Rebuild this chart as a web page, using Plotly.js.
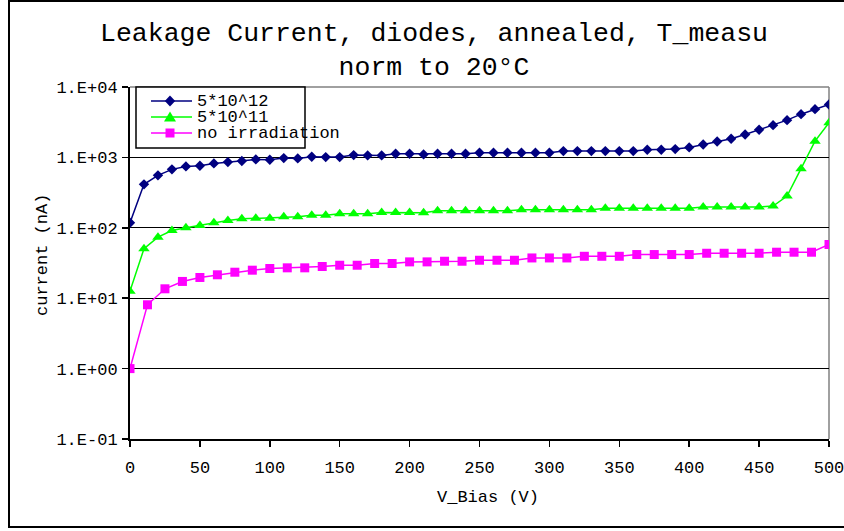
<!DOCTYPE html>
<html>
<head>
<meta charset="utf-8">
<script src="https://cdn.plot.ly/plotly-3.0.1.min.js"></script>
<style>
  html, body { margin: 0; padding: 0; background: #ffffff; }
  #chart { width: 844px; height: 531px; }
</style>
</head>
<body>
<div id="chart"></div>
<script>
// Bias voltage steps (V) for the two irradiated diodes
const biasVolts = [0, 10, 20, 30, 40, 50, 60, 70, 80, 90, 100, 110, 120, 130, 140, 150, 160, 170, 180, 190,
  200, 210, 220, 230, 240, 250, 260, 270, 280, 290, 300, 310, 320, 330, 340, 350, 360, 370, 380, 390,
  400, 410, 420, 430, 440, 450, 460, 470, 480, 490, 500];

// Bias voltage steps (V) for the unirradiated diode
const biasVoltsRef = [0, 12.5, 25, 37.5, 50, 62.5, 75, 87.5, 100, 112.5, 125, 137.5, 150, 162.5, 175, 187.5,
  200, 212.5, 225, 237.5, 250, 262.5, 275, 287.5, 300, 312.5, 325, 337.5, 350, 362.5, 375, 387.5,
  400, 412.5, 425, 437.5, 450, 462.5, 475, 487.5, 500];

// Leakage current (nA), fluence 5*10^12
const current5e12 = [118, 414, 556, 676, 745, 760, 822, 858, 887, 937, 925, 977, 968, 1020, 1010, 1010, 1078, 1067, 1067, 1125,
  1125, 1103, 1128, 1128, 1128, 1166, 1166, 1166, 1166, 1166, 1166, 1228, 1228, 1228, 1228, 1228, 1228, 1285, 1285, 1312,
  1387, 1528, 1685, 1841, 2119, 2471, 2873, 3381, 4112, 4843, 5646];

// Leakage current (nA), fluence 5*10^11
const current5e11 = [12.6, 50.4, 73.6, 91.6, 100, 108, 118, 127, 134, 137, 137, 143, 143, 151, 151, 158, 158, 158, 165, 165,
  165, 164, 175, 175, 175, 175, 175, 175, 181, 181, 181, 181, 181, 181, 189, 189, 189, 189, 189, 189,
  189, 197, 197, 197, 197, 197, 204, 282, 692, 1702, 3105];

// Leakage current (nA), no irradiation
const currentNoIrr = [1.0, 8.06, 13.6, 17.3, 19.7, 21.5, 23.4, 25.0, 26.4, 27.0, 27.0, 28.2, 29.4, 29.4, 31.1, 31.1,
  32.8, 32.8, 33.5, 33.5, 34.6, 34.6, 34.6, 37.3, 37.3, 37.3, 39.4, 39.4, 39.4, 41.7, 41.7, 41.7,
  41.7, 43.5, 43.5, 43.5, 43.5, 45, 45, 45, 57.9];

const seriesNames = ['5*10^12', '5*10^11', 'no irradiation'];
const seriesColors = ['#000080', '#00ff00', '#ff00ff'];
const yTickVals = [0.1, 1, 10, 100, 1000, 10000];
const yTickText = ['1.E-01', '1.E+00', '1.E+01', '1.E+02', '1.E+03', '1.E+04'];
const xTickVals = [0, 50, 100, 150, 200, 250, 300, 350, 400, 450, 500];

const FONT = '"Liberation Mono", "Courier New", monospace';
const W = 844, H = 531;
const M = { l: 130, r: 15, t: 87, b: 92 };
const plotW = W - M.l - M.r, plotH = H - M.t - M.b;
// pixel -> paper coordinates
const px = v => (v - M.l) / plotW;
const py = v => (H - M.b - v) / plotH;
const pathFrom = pts => 'M ' + pts.map(p => px(p[0]).toFixed(5) + ',' + py(p[1]).toFixed(5)).join(' L ') + ' Z';

const traces = [
  { x: biasVolts, y: current5e12, name: seriesNames[0], mode: 'lines+markers',
    line: { color: seriesColors[0], width: 1.5 }, marker: { symbol: 'diamond', size: 8, color: seriesColors[0] } },
  { x: biasVolts, y: current5e11, name: seriesNames[1], mode: 'lines+markers',
    line: { color: seriesColors[1], width: 1.5 }, marker: { symbol: 'triangle-up', size: 10, color: seriesColors[1] } },
  { x: biasVoltsRef, y: currentNoIrr, name: seriesNames[2], mode: 'lines+markers',
    line: { color: seriesColors[2], width: 1.5 }, marker: { symbol: 'square', size: 9, color: seriesColors[2] } }
];

// Legend box, sample lines and symbols
const legRows = [101, 117, 133];
const shapes = [
  // outer chart frame
  { type: 'rect', xref: 'paper', yref: 'paper', x0: px(9), x1: px(860), y0: py(527), y1: py(1),
    line: { color: '#000000', width: 2 }, layer: 'below' },
  // plot area top and right edges
  { type: 'line', xref: 'paper', yref: 'paper', x0: 0, x1: 1, y0: 1, y1: 1, line: { color: '#808080', width: 1.5 }, layer: 'between' },
  { type: 'line', xref: 'paper', yref: 'paper', x0: 1, x1: 1, y0: 0, y1: 1, line: { color: '#808080', width: 1.5 }, layer: 'between' },
  // legend box
  { type: 'rect', xref: 'paper', yref: 'paper', x0: px(136), x1: px(305), y0: py(148), y1: py(87),
    fillcolor: '#ffffff', line: { color: '#000000', width: 1.5 }, layer: 'above' }
];
legRows.forEach((ry, i) => {
  shapes.push({ type: 'line', xref: 'paper', yref: 'paper', x0: px(151), x1: px(192), y0: py(ry), y1: py(ry),
    line: { color: seriesColors[i], width: 1.5 }, layer: 'above' });
});
const cx = 170;
shapes.push({ type: 'path', xref: 'paper', yref: 'paper', layer: 'above', fillcolor: seriesColors[0], line: { width: 0 },
  path: pathFrom([[cx, legRows[0] - 5.5], [cx + 5.2, legRows[0]], [cx, legRows[0] + 5.5], [cx - 5.2, legRows[0]]]) });
shapes.push({ type: 'path', xref: 'paper', yref: 'paper', layer: 'above', fillcolor: seriesColors[1], line: { width: 0 },
  path: pathFrom([[cx - 6, legRows[1] + 4.5], [cx + 6, legRows[1] + 4.5], [cx, legRows[1] - 5.5]]) });
shapes.push({ type: 'path', xref: 'paper', yref: 'paper', layer: 'above', fillcolor: seriesColors[2], line: { width: 0 },
  path: pathFrom([[cx - 4.5, legRows[2] - 4.5], [cx + 4.5, legRows[2] - 4.5], [cx + 4.5, legRows[2] + 4.5], [cx - 4.5, legRows[2] + 4.5]]) });

const annotations = legRows.map((ry, i) => ({
  text: seriesNames[i], xref: 'paper', yref: 'paper', x: px(195), y: py(ry), xanchor: 'left', yanchor: 'middle',
  showarrow: false, font: { family: FONT, size: 17, color: '#000000' }
}));
annotations.push({ text: 'current (nA)', xref: 'paper', yref: 'paper', x: px(42), y: py(255), textangle: -90,
  xanchor: 'center', yanchor: 'middle', showarrow: false, font: { family: FONT, size: 17, color: '#000000' } });
annotations.push({ text: 'V_Bias (V)', xref: 'paper', yref: 'paper', x: px(488), y: py(497),
  xanchor: 'center', yanchor: 'middle', showarrow: false, font: { family: FONT, size: 17, color: '#000000' } });

const layout = {
  width: W, height: H,
  margin: M,
  paper_bgcolor: '#ffffff', plot_bgcolor: '#ffffff',
  showlegend: false,
  title: {
    text: 'Leakage Current, diodes, annealed, T_measu<br>norm to 20°C',
    font: { family: FONT, size: 26.5, color: '#000000' },
    x: 434 / W, xref: 'container', xanchor: 'center',
    y: 1 - 41 / H, yref: 'container', yanchor: 'top'
  },
  xaxis: {
    range: [0, 500], tickvals: xTickVals, ticks: 'outside', ticklen: 6, tickwidth: 1.5, tickcolor: '#000000',
    showline: true, linecolor: '#000000', linewidth: 2, showgrid: false, zeroline: false,
    tickfont: { family: FONT, size: 17, color: '#000000' }, ticklabelstandoff: 6, ticklabeloverflow: 'allow'
  },
  yaxis: {
    type: 'log', range: [-1, 4], tickvals: yTickVals, ticktext: yTickText, ticks: 'outside', ticklen: 6,
    tickwidth: 1.5, tickcolor: '#000000', showline: true, linecolor: '#000000', linewidth: 2,
    showgrid: true, gridcolor: '#000000', gridwidth: 1, zeroline: false, ticklabelstandoff: 1,
    tickfont: { family: FONT, size: 17, color: '#000000' }
  },
  shapes: shapes,
  annotations: annotations
};

Plotly.newPlot('chart', traces, layout, { displayModeBar: false, staticPlot: true });
</script>
</body>
</html>
